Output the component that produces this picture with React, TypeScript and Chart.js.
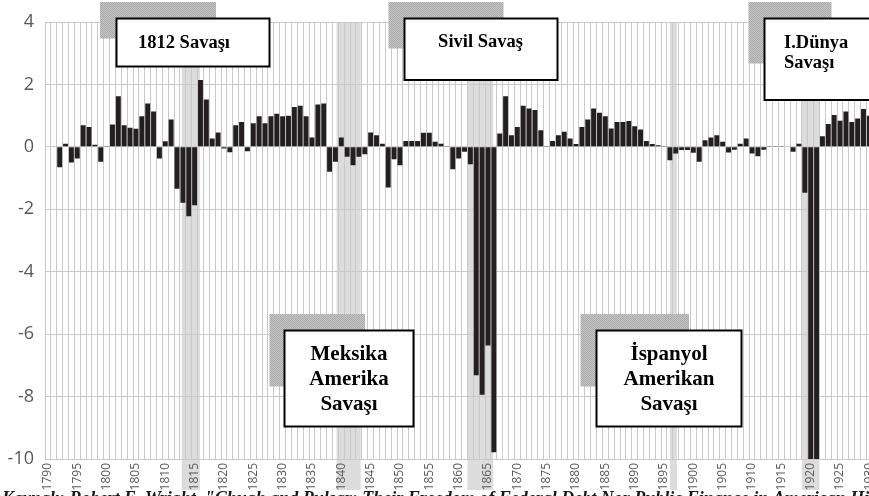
import React, { useEffect, useRef } from 'react';
import { Chart, registerables } from 'chart.js';

Chart.register(...registerables);

// ---- data ----
const FIRST_YEAR = 1790;
const values: number[] = [
  0.02, 0.02, -0.65, 0.1, -0.5, -0.37, 0.69, 0.64, 0.07, -0.48,
  0.01, 0.72, 1.62, 0.69, 0.61, 0.58, 0.98, 1.39, 1.13, -0.37,
  0.18, 0.88, -1.34, -1.79, -2.22, -1.87, 2.14, 1.52, 0.27, 0.46,
  -0.05, -0.17, 0.69, 0.8, -0.14, 0.76, 0.98, 0.76, 0.98, 1.06,
  0.98, 1.0, 1.28, 1.32, 0.98, 0.3, 1.36, 1.39, -0.8, -0.48,
  0.3, -0.32, -0.59, -0.32, -0.24, 0.46, 0.37, 0.1, -1.3, -0.4,
  -0.59, 0.19, 0.19, 0.19, 0.45, 0.45, 0.16, 0.1, 0.03, -0.72,
  -0.37, -0.16, -0.56, -7.32, -7.94, -6.36, -9.78, 0.43, 1.62, 0.37,
  0.64, 1.32, 1.23, 1.18, 0.53, 0.03, 0.19, 0.37, 0.48, 0.27,
  0.09, 0.64, 0.88, 1.23, 1.09, 0.98, 0.59, 0.8, 0.8, 0.83,
  0.66, 0.56, 0.19, 0.09, 0.05, 0.03, -0.43, -0.21, -0.1, -0.1,
  -0.19, -0.48, 0.21, 0.3, 0.37, 0.16, -0.18, -0.09, 0.1, 0.27,
  -0.21, -0.3, -0.09, 0.03, 0.03, 0.01, 0, -0.16, 0.1, -1.47,
  -10, -10, 0.34, 0.73, 1.02, 0.84, 1.13, 0.8, 0.91, 1.21,
  1.0,
];
const years: string[] = values.map((_, i) => String(FIRST_YEAR + i));
const LABEL_EVERY = 5;
const Y_MIN = -10;
const Y_MAX = 4;
const Y_STEP = 2;

// war highlight bands (in year units)
const bandFrom: number[] = [1813.3, 1839.7, 1862.0, 1896.5, 1919.0];
const bandTo: number[] = [1816.4, 1843.8, 1866.4, 1897.7, 1922.0];

// annotation boxes
const boxTexts: string[][] = [
  ['1812 Savaşı'],
  ['Sivil Savaş'],
  ['I.Dünya', 'Savaşı'],
  ['Meksika', 'Amerika', 'Savaşı'],
  ['İspanyol', 'Amerikan', 'Savaşı'],
];
const CAPTION = 'Kaynak: Robert E. Wright, "Chugh and Pulsar: Their Freedom of Federal Debt Nor Public Finance in American History"';

type Box = {
  box: [number, number, number, number];
  shadow: [number, number, number, number];
  align: CanvasTextAlign;
  tx: number;
  ty: number[];
  size: number;
};
const boxLayout: Box[] = [
  { box: [116.5, 18.5, 269.5, 66.5], shadow: [100, 2, 216, 38.5], align: 'center', tx: 184, ty: [43], size: 18.5 },
  { box: [404.5, 18.5, 557.5, 80], shadow: [388.5, 2, 503.5, 48.5], align: 'center', tx: 480.5, ty: [42], size: 18.5 },
  { box: [764.5, 18.5, 890, 100], shadow: [748.5, 2, 831.5, 63.5], align: 'left', tx: 784, ty: [43.5, 63], size: 18.5 },
  { box: [284.5, 330.5, 413.5, 426.5], shadow: [269.5, 314, 365, 386.5], align: 'center', tx: 349, ty: [355, 380, 405], size: 21 },
  { box: [596.5, 330.5, 741.5, 426.5], shadow: [580.5, 314, 689, 386.5], align: 'center', tx: 669, ty: [355, 380, 405], size: 21 },
];

function makePattern(ctx: CanvasRenderingContext2D) {
  const c = document.createElement('canvas');
  c.width = 2;
  c.height = 2;
  const g = c.getContext('2d')!;
  g.fillStyle = '#c6c6c6';
  g.fillRect(0, 0, 2, 2);
  g.fillStyle = '#a9a9a9';
  g.fillRect(0, 0, 1, 1);
  g.fillRect(1, 1, 1, 1);
  return ctx.createPattern(c, 'repeat');
}

const overlay = {
  id: 'overlay',
  beforeDraw(chart: any) {
    const { ctx, chartArea } = chart;
    const x = chart.scales.x;
    const w = (x.right - x.left) / values.length;
    ctx.save();
    ctx.fillStyle = '#ffffff';
    ctx.fillRect(0, 0, chart.width, chart.height);
    ctx.fillStyle = '#dcdcdc';
    bandFrom.forEach((f, i) => {
      const x1 = x.left + (f - FIRST_YEAR) * w;
      const x2 = x.left + (bandTo[i] - FIRST_YEAR) * w;
      ctx.fillRect(x1, chartArea.top, x2 - x1, 490 - chartArea.top);
    });
    ctx.restore();
  },
  afterDraw(chart: any) {
    const { ctx } = chart;
    ctx.save();
    const pat = makePattern(ctx);
    boxLayout.forEach((b, i) => {
      const [sx1, sy1, sx2, sy2] = b.shadow;
      ctx.fillStyle = pat || '#b8b8b8';
      ctx.fillRect(sx1, sy1, sx2 - sx1, sy2 - sy1);
      const [x1, y1, x2, y2] = b.box;
      ctx.fillStyle = '#ffffff';
      ctx.fillRect(x1, y1, x2 - x1, y2 - y1);
      ctx.strokeStyle = '#000000';
      ctx.lineWidth = 2;
      ctx.strokeRect(x1, y1, x2 - x1, y2 - y1);
      ctx.fillStyle = '#000000';
      ctx.font = `bold ${b.size}px "Liberation Serif", "Times New Roman", serif`;
      ctx.textAlign = b.align;
      ctx.textBaseline = 'middle';
      boxTexts[i].forEach((t, j) => ctx.fillText(t, b.tx, b.ty[j]));
    });
    ctx.fillStyle = '#1a1a1a';
    ctx.font = 'italic bold 18px "Liberation Serif", "Times New Roman", serif';
    ctx.textAlign = 'left';
    ctx.textBaseline = 'alphabetic';
    ctx.fillText(CAPTION, 2, 504);
    ctx.restore();
  },
};

export default function App() {
  const ref = useRef<HTMLCanvasElement>(null);
  useEffect(() => {
    const chart = new Chart(ref.current!, {
      type: 'bar',
      data: {
        labels: years,
        datasets: [
          {
            data: values,
            backgroundColor: '#231f20',
            borderWidth: 0,
            barPercentage: 0.84,
            categoryPercentage: 1,
          },
        ],
      },
      options: {
        animation: false,
        responsive: false,
        devicePixelRatio: 1,
        layout: { padding: { top: 22, right: 27.7, bottom: 0, left: 0 } },
        plugins: { legend: { display: false }, tooltip: { enabled: false } },
        scales: {
          x: {
            grid: { color: '#c9c9c9', lineWidth: 1, drawTicks: false, offset: true },
            border: { color: '#c9c9c9' },
            ticks: {
              autoSkip: false,
              minRotation: 90,
              maxRotation: 90,
              padding: 4,
              color: '#595959',
              font: { family: '"Open Sans", "Noto Sans", sans-serif', size: 12 },
              callback: (_v: any, i: number) => (i % LABEL_EVERY === 0 ? years[i] : ''),
            },
            afterFit: (s: any) => {
              s.height = 37;
            },
          },
          y: {
            min: Y_MIN,
            max: Y_MAX,
            grid: { color: '#c9c9c9', lineWidth: 1, drawTicks: false },
            border: { color: '#c9c9c9' },
            ticks: {
              stepSize: Y_STEP,
              padding: 11,
              color: '#595959',
              font: { family: '"Open Sans", "Noto Sans", sans-serif', size: 18 },
            },
            afterFit: (s: any) => {
              s.width = 45;
            },
          },
        },
      },
      plugins: [overlay],
    } as any);
    return () => chart.destroy();
  }, []);
  return (
    <div
      style={{
        position: 'fixed',
        left: 0,
        top: 0,
        width: 869,
        height: 496,
        overflow: 'hidden',
        background: '#fff',
      }}
    >
      <canvas ref={ref} width={900} height={496} style={{ display: 'block', width: 900, height: 496 }} />
    </div>
  );
}
